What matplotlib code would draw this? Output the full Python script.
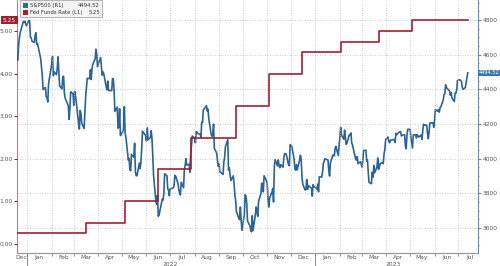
import pandas as pd
import numpy as np
import matplotlib
matplotlib.use("Agg")
import matplotlib.pyplot as plt
import matplotlib.dates as mdates
from matplotlib.patches import Rectangle

# S&P 500 closes (R1)
spx_dates = [
    "2021-12-20", "2021-12-21", "2021-12-22", "2021-12-23", "2021-12-27", "2021-12-28", "2021-12-29", "2021-12-30", "2021-12-31",
    "2022-01-03", "2022-01-04", "2022-01-05", "2022-01-06", "2022-01-07", "2022-01-10", "2022-01-11", "2022-01-12", "2022-01-13", "2022-01-14",
    "2022-01-18", "2022-01-19", "2022-01-20", "2022-01-21", "2022-01-24", "2022-01-25", "2022-01-26", "2022-01-27", "2022-01-28", "2022-01-31",
    "2022-02-01", "2022-02-02", "2022-02-03", "2022-02-04", "2022-02-07", "2022-02-08", "2022-02-09", "2022-02-10", "2022-02-11", "2022-02-14",
    "2022-02-15", "2022-02-16", "2022-02-17", "2022-02-18", "2022-02-22", "2022-02-23", "2022-02-24", "2022-02-25", "2022-02-28",
    "2022-03-01", "2022-03-02", "2022-03-03", "2022-03-04", "2022-03-07", "2022-03-08", "2022-03-09", "2022-03-10", "2022-03-11", "2022-03-14",
    "2022-03-15", "2022-03-16", "2022-03-17", "2022-03-18", "2022-03-21", "2022-03-22", "2022-03-23", "2022-03-24", "2022-03-25", "2022-03-28",
    "2022-03-29", "2022-03-30", "2022-03-31",
    "2022-04-01", "2022-04-04", "2022-04-05", "2022-04-06", "2022-04-07", "2022-04-08", "2022-04-11", "2022-04-12", "2022-04-13", "2022-04-14",
    "2022-04-18", "2022-04-19", "2022-04-20", "2022-04-21", "2022-04-22", "2022-04-25", "2022-04-26", "2022-04-27", "2022-04-28", "2022-04-29",
    "2022-05-02", "2022-05-03", "2022-05-04", "2022-05-05", "2022-05-06", "2022-05-09", "2022-05-10", "2022-05-11", "2022-05-12", "2022-05-13",
    "2022-05-16", "2022-05-17", "2022-05-18", "2022-05-19", "2022-05-20", "2022-05-23", "2022-05-24", "2022-05-25", "2022-05-26", "2022-05-27",
    "2022-05-31",
    "2022-06-01", "2022-06-02", "2022-06-03", "2022-06-06", "2022-06-07", "2022-06-08", "2022-06-09", "2022-06-10", "2022-06-13", "2022-06-14",
    "2022-06-15", "2022-06-16", "2022-06-17", "2022-06-21", "2022-06-22", "2022-06-23", "2022-06-24", "2022-06-27", "2022-06-28", "2022-06-29",
    "2022-06-30",
    "2022-07-01", "2022-07-05", "2022-07-06", "2022-07-07", "2022-07-08", "2022-07-11", "2022-07-12", "2022-07-13", "2022-07-14", "2022-07-15",
    "2022-07-18", "2022-07-19", "2022-07-20", "2022-07-21", "2022-07-22", "2022-07-25", "2022-07-26", "2022-07-27", "2022-07-28", "2022-07-29",
    "2022-08-01", "2022-08-02", "2022-08-03", "2022-08-04", "2022-08-05", "2022-08-08", "2022-08-09", "2022-08-10", "2022-08-11", "2022-08-12",
    "2022-08-15", "2022-08-16", "2022-08-17", "2022-08-18", "2022-08-19", "2022-08-22", "2022-08-23", "2022-08-24", "2022-08-25", "2022-08-26",
    "2022-08-29", "2022-08-30", "2022-08-31",
    "2022-09-01", "2022-09-02", "2022-09-06", "2022-09-07", "2022-09-08", "2022-09-09", "2022-09-12", "2022-09-13", "2022-09-14", "2022-09-15",
    "2022-09-16", "2022-09-19", "2022-09-20", "2022-09-21", "2022-09-22", "2022-09-23", "2022-09-26", "2022-09-27", "2022-09-28", "2022-09-29",
    "2022-09-30",
    "2022-10-03", "2022-10-04", "2022-10-05", "2022-10-06", "2022-10-07", "2022-10-10", "2022-10-11", "2022-10-12", "2022-10-13", "2022-10-14",
    "2022-10-17", "2022-10-18", "2022-10-19", "2022-10-20", "2022-10-21", "2022-10-24", "2022-10-25", "2022-10-26", "2022-10-27", "2022-10-28",
    "2022-10-31",
    "2022-11-01", "2022-11-02", "2022-11-03", "2022-11-04", "2022-11-07", "2022-11-08", "2022-11-09", "2022-11-10", "2022-11-11", "2022-11-14",
    "2022-11-15", "2022-11-16", "2022-11-17", "2022-11-18", "2022-11-21", "2022-11-22", "2022-11-23", "2022-11-25", "2022-11-28", "2022-11-29",
    "2022-11-30",
    "2022-12-01", "2022-12-02", "2022-12-05", "2022-12-06", "2022-12-07", "2022-12-08", "2022-12-09", "2022-12-12", "2022-12-13", "2022-12-14",
    "2022-12-15", "2022-12-16", "2022-12-19", "2022-12-20", "2022-12-21", "2022-12-22", "2022-12-23", "2022-12-27", "2022-12-28", "2022-12-29",
    "2022-12-30",
    "2023-01-03", "2023-01-04", "2023-01-05", "2023-01-06", "2023-01-09", "2023-01-10", "2023-01-11", "2023-01-12", "2023-01-13", "2023-01-17",
    "2023-01-18", "2023-01-19", "2023-01-20", "2023-01-23", "2023-01-24", "2023-01-25", "2023-01-26", "2023-01-27", "2023-01-30", "2023-01-31",
    "2023-02-01", "2023-02-02", "2023-02-03", "2023-02-06", "2023-02-07", "2023-02-08", "2023-02-09", "2023-02-10", "2023-02-13", "2023-02-14",
    "2023-02-15", "2023-02-16", "2023-02-17", "2023-02-21", "2023-02-22", "2023-02-23", "2023-02-24", "2023-02-27", "2023-02-28",
    "2023-03-01", "2023-03-02", "2023-03-03", "2023-03-06", "2023-03-07", "2023-03-08", "2023-03-09", "2023-03-10", "2023-03-13", "2023-03-14",
    "2023-03-15", "2023-03-16", "2023-03-17", "2023-03-20", "2023-03-21", "2023-03-22", "2023-03-23", "2023-03-24", "2023-03-27", "2023-03-28",
    "2023-03-29", "2023-03-30", "2023-03-31",
    "2023-04-03", "2023-04-04", "2023-04-05", "2023-04-06", "2023-04-10", "2023-04-11", "2023-04-12", "2023-04-13", "2023-04-14", "2023-04-17",
    "2023-04-18", "2023-04-19", "2023-04-20", "2023-04-21", "2023-04-24", "2023-04-25", "2023-04-26", "2023-04-27", "2023-04-28",
    "2023-05-01", "2023-05-02", "2023-05-03", "2023-05-04", "2023-05-05", "2023-05-08", "2023-05-09", "2023-05-10", "2023-05-11", "2023-05-12",
    "2023-05-15", "2023-05-16", "2023-05-17", "2023-05-18", "2023-05-19", "2023-05-22", "2023-05-23", "2023-05-24", "2023-05-25", "2023-05-26",
    "2023-05-30", "2023-05-31",
    "2023-06-01", "2023-06-02", "2023-06-05", "2023-06-06", "2023-06-07", "2023-06-08", "2023-06-09", "2023-06-12", "2023-06-13", "2023-06-14",
    "2023-06-15", "2023-06-16", "2023-06-20", "2023-06-21", "2023-06-22", "2023-06-23", "2023-06-26", "2023-06-27", "2023-06-28", "2023-06-29",
    "2023-06-30",
    "2023-07-03", "2023-07-05", "2023-07-06", "2023-07-07", "2023-07-10", "2023-07-11", "2023-07-12", "2023-07-13",
]
spx_values = [
    4568, 4649, 4697, 4726, 4791, 4786, 4793, 4778, 4766,
    4797, 4794, 4701, 4696, 4677, 4670, 4713, 4726, 4659, 4663,
    4577, 4533, 4483, 4398, 4410, 4357, 4350, 4326, 4432, 4516,
    4546, 4589, 4477, 4500, 4484, 4522, 4587, 4504, 4419, 4402,
    4472, 4475, 4380, 4349, 4305, 4226, 4288, 4385, 4374,
    4306, 4387, 4364, 4329, 4201, 4170, 4278, 4260, 4204, 4173,
    4263, 4358, 4412, 4463, 4461, 4512, 4456, 4520, 4543, 4575,
    4631, 4602, 4530,
    4546, 4583, 4525, 4481, 4500, 4488, 4413, 4397, 4447, 4393,
    4392, 4462, 4459, 4394, 4272, 4297, 4175, 4184, 4288, 4132,
    4155, 4175, 4300, 4147, 4123, 3991, 4001, 3935, 3930, 4024,
    4008, 4088, 3923, 3901, 3901, 3974, 3941, 3979, 4058, 4158,
    4132,
    4101, 4177, 4109, 4121, 4161, 4116, 4018, 3901, 3750, 3735,
    3790, 3667, 3675, 3765, 3760, 3796, 3912, 3900, 3822, 3819,
    3785,
    3825, 3831, 3845, 3903, 3899, 3855, 3819, 3802, 3790, 3863,
    3831, 3937, 3960, 3999, 3962, 3967, 3921, 4024, 4073, 4130,
    4119, 4091, 4155, 4152, 4145, 4140, 4122, 4210, 4208, 4280,
    4297, 4305, 4274, 4284, 4228, 4138, 4128, 4141, 4199, 4058,
    4031, 3986, 3955,
    3967, 3924, 3908, 3980, 4006, 4067, 4110, 3932, 3946, 3901,
    3873, 3900, 3856, 3789, 3758, 3693, 3655, 3647, 3720, 3640,
    3586,
    3679, 3791, 3783, 3744, 3640, 3612, 3589, 3577, 3670, 3583,
    3677, 3720, 3695, 3666, 3753, 3798, 3859, 3831, 3808, 3901,
    3872,
    3856, 3760, 3720, 3771, 3807, 3828, 3749, 3956, 3993, 3957,
    3992, 3959, 3947, 3965, 3950, 4004, 4028, 4026, 3964, 3958,
    4080,
    4077, 4072, 3999, 3941, 3933, 3964, 3934, 3991, 4019, 3996,
    3896, 3852, 3818, 3821, 3879, 3822, 3845, 3829, 3783, 3849,
    3840,
    3824, 3853, 3808, 3895, 3893, 3919, 3970, 3983, 3999, 3991,
    3929, 3899, 3973, 4020, 4017, 4016, 4060, 4070, 4018, 4077,
    4119, 4180, 4136, 4111, 4164, 4118, 4082, 4090, 4137, 4136,
    4148, 4090, 4079, 3997, 3991, 4012, 3970, 3982, 3970,
    3951, 3982, 4046, 4048, 3986, 3992, 3918, 3862, 3855, 3920,
    3892, 3960, 3917, 3951, 4003, 3937, 3949, 3971, 3977, 3971,
    4028, 4051, 4109,
    4124, 4101, 4091, 4105, 4110, 4109, 4092, 4146, 4138, 4152,
    4154, 4155, 4130, 4134, 4138, 4071, 4056, 4136, 4169,
    4168, 4120, 4091, 4061, 4136, 4138, 4119, 4138, 4131, 4124,
    4136, 4110, 4159, 4198, 4192, 4193, 4146, 4115, 4151, 4205,
    4206, 4180,
    4221, 4282, 4273, 4283, 4268, 4294, 4299, 4339, 4369, 4373,
    4426, 4410, 4389, 4365, 4381, 4349, 4329, 4378, 4377, 4396,
    4450,
    4455, 4446, 4412, 4399, 4410, 4439, 4472, 4494.52,
]

# Fed Funds Rate upper bound (L1), step changes
fed_dates = ["2021-12-19", "2022-03-17", "2022-05-05", "2022-06-16", "2022-07-28", "2022-09-22",
             "2022-11-03", "2022-12-15", "2023-02-02", "2023-03-23", "2023-05-04", "2023-07-13"]
fed_values = [0.25, 0.50, 1.00, 1.75, 2.50, 3.25, 4.00, 4.50, 4.75, 5.00, 5.25, 5.25]

left_ticks = [0.0, 1.0, 2.0, 3.0, 4.0, 5.0]
right_ticks = [3600, 3800, 4000, 4200, 4400, 4600, 4800]

blue = "#2c6495"
red = "#a51e30"
grey_txt = "#555555"

spx = pd.Series(spx_values, index=pd.to_datetime(spx_dates))
fed = pd.Series(fed_values, index=pd.to_datetime(fed_dates))

fig = plt.figure(figsize=(5.0, 2.66), dpi=100)
ax = fig.add_axes([0.034, 0.049, 0.922, 0.951])
ax2 = ax.twinx()

ax.set_zorder(2)
ax.patch.set_visible(False)

ax.step(fed.index, fed.values, where="post", color=red, lw=1.2, zorder=3)
ax2.plot(spx.index, spx.values, color=blue, lw=1.2)

x0, x1 = pd.Timestamp("2021-12-19"), pd.Timestamp("2023-07-26")
ax.set_xlim(x0, x1)
ax.set_ylim(-0.21, 5.73)
ax2.set_ylim(3455, 4915)

# month grid at month starts, labels mid-month
ax.xaxis.set_major_locator(mdates.MonthLocator())
ax.xaxis.set_major_formatter(plt.NullFormatter())
ax.tick_params(axis="x", which="major", length=2, color="#999999")
mids = list(pd.date_range("2022-01-01", "2023-07-01", freq="MS") + pd.Timedelta(days=15))
labels = [d.strftime("%b") for d in mids]
mids = [pd.Timestamp("2021-12-25")] + mids
labels = ["Dec"] + labels
ax.set_xticks(mids, minor=True)
ax.set_xticklabels(labels, minor=True)
ax.tick_params(axis="x", which="minor", length=0, labelsize=4.3, labelcolor=grey_txt, pad=1.5)

ax2.grid(True, axis="y", ls=(0, (1, 2)), color="#bbbbbb", lw=0.6)
ax2.set_zorder(1)
ax.grid(True, axis="x", which="major", ls=(0, (1, 2)), color="#bbbbbb", lw=0.6)

# year labels and separators
trans = ax.get_xaxis_transform()
for yr_x, yr in [(pd.Timestamp("2022-07-01"), "2022"), (pd.Timestamp("2023-04-10"), "2023")]:
    ax.text(yr_x, -0.035, yr, transform=trans, ha="center", va="top", fontsize=4.3, color=grey_txt, clip_on=False)
for sep in [pd.Timestamp("2022-01-01"), pd.Timestamp("2023-01-01")]:
    ax.plot([sep, sep], [0, -0.06], transform=trans, color="#777777", lw=0.6, clip_on=False)

ax.set_yticks(left_ticks)
ax.set_yticklabels(["%.2f" % v for v in left_ticks])
ax.tick_params(axis="y", labelsize=4.3, labelcolor=grey_txt, length=2, pad=1, color=red)
ax2.set_yticks(right_ticks)
ax2.set_yticklabels([str(v) for v in right_ticks])
ax2.yaxis.set_minor_locator(plt.MultipleLocator(50))
ax2.tick_params(axis="y", which="major", labelsize=4.3, labelcolor=grey_txt, length=2, pad=1.5, color="#6a8bab")
ax2.tick_params(axis="y", which="minor", length=1, color="#6a8bab")

for a in (ax, ax2):
    a.spines["top"].set_visible(False)
    a.spines["bottom"].set_color("#999999")
ax.spines["left"].set_color(red)
ax.spines["left"].set_alpha(0.6)
ax.spines["right"].set_visible(False)
ax2.spines["left"].set_visible(False)
ax2.spines["right"].set_color("#6a8bab")

# last value tags
ax.text(-0.002, fed.values[-1], "%.2f" % fed.values[-1], transform=ax.get_yaxis_transform(), ha="right", va="center",
        fontsize=4.2, color="white", clip_on=False,
        bbox=dict(boxstyle="square,pad=0.25", fc=red, ec="none"))
ax2.text(1.002, spx.values[-1], "%.2f" % spx.values[-1], transform=ax2.get_yaxis_transform(), ha="left", va="center",
         fontsize=3.7, color="white", clip_on=False, zorder=5,
         bbox=dict(boxstyle="square,pad=0.15", fc="#3a78ad", ec="none"))

# legend box
legend_names = ["S&P500 (R1)", "Fed Funds Rate (L1)"]
legend_vals = ["%.2f" % spx.values[-1], "%.2f" % fed.values[-1]]
legend_cols = ["#1f7a7a", red]
lx0, lx1 = 20 / 500, 102 / 500
ly0, ly1 = 1 - 17 / 266, 1 - 0.5 / 266
fig.patches.append(Rectangle((lx0, ly0), lx1 - lx0, ly1 - ly0, transform=fig.transFigure,
                             fc="#f4f4f4", ec="#aaaaaa", lw=0.6, zorder=10))
for i, (nm, vl, c) in enumerate(zip(legend_names, legend_vals, legend_cols)):
    yy = 1 - (5.5 + i * 7) / 266
    fig.patches.append(Rectangle((23 / 500, yy - 2.3 / 266), 4.6 / 500, 4.6 / 266, transform=fig.transFigure,
                                 fc=c, ec="none", zorder=11))
    fig.text(30 / 500, yy, nm, fontsize=3.8, color="#333333", va="center", ha="left", zorder=12)
    fig.text(100 / 500, yy, vl, fontsize=3.8, color="#333333", va="center", ha="right", zorder=12)

fig.savefig("out.png", dpi=100)
